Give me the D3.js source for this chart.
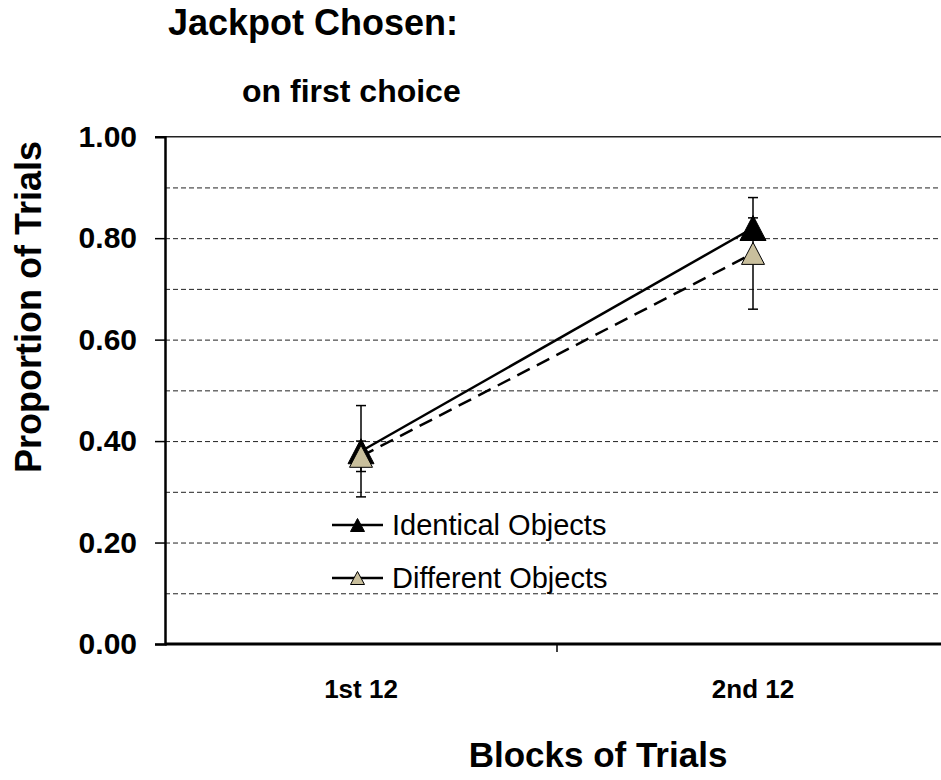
<!DOCTYPE html>
<html><head><meta charset="utf-8">
<script src="https://cdn.jsdelivr.net/npm/d3@7"></script>
<style>body{margin:0;background:#fff}svg{display:block}text{font-family:"Liberation Sans",Arial,sans-serif}</style>
</head><body><svg id="c" width="941" height="780"></svg>
<script>
const categories = ["1st 12", "2nd 12"];
const identical = [0.38, 0.82];
const identicalErr = [0.09, 0.02];
const different = [0.37, 0.77];
const differentErr = [0.03, 0.11];
const yTicks = [0, 0.2, 0.4, 0.6, 0.8, 1.0];
const gridValues = [0.1, 0.2, 0.3, 0.4, 0.5, 0.6, 0.7, 0.8, 0.9];
const seriesNames = ["Identical Objects", "Different Objects"];

const svg = d3.select("#c");
const L = 165, R = 949, T = 136.7, B = 644;
const x = d3.scaleBand().domain(categories).range([L, R]);
const y = d3.scaleLinear().domain([0, 1]).range([B, T]);
const cx = c => x(c) + x.bandwidth() / 2;
const beige = "#c9bf9c";

// gridlines
svg.append("g").attr("transform", `translate(${L},0)`)
  .call(d3.axisLeft(y).tickValues(gridValues).tickSize(-(R - L)).tickFormat(""))
  .call(g => g.select(".domain").remove())
  .call(g => g.selectAll("line").attr("stroke", "#222").attr("stroke-width", 1).attr("stroke-dasharray", "5,3"));
svg.append("line").attr("x1", L).attr("x2", R).attr("y1", y(1)).attr("y2", y(1))
  .attr("stroke", "#222").attr("stroke-width", 1.5);

// y axis
svg.append("g").attr("transform", `translate(${L},0)`)
  .call(d3.axisLeft(y).tickValues(yTicks).tickSize(10).tickPadding(18).tickFormat(d3.format(".2f")))
  .call(g => g.select(".domain").attr("stroke", "#000").attr("stroke-width", 2.5))
  .call(g => g.selectAll("line").attr("stroke", "#000").attr("stroke-width", 1.5))
  .call(g => g.selectAll("text").attr("font-size", 30).attr("font-weight", "bold").attr("fill", "#000")
    .attr("font-family", '"Liberation Sans",Arial,sans-serif'));

// x axis
svg.append("line").attr("x1", L).attr("x2", R).attr("y1", B).attr("y2", B).attr("stroke", "#000").attr("stroke-width", 3);
svg.append("g").selectAll("line").data(categories.slice(1)).join("line")
  .attr("x1", d => x(d)).attr("x2", d => x(d)).attr("y1", B).attr("y2", B + 8)
  .attr("stroke", "#000").attr("stroke-width", 1.5);
svg.append("g").selectAll("text").data(categories).join("text")
  .attr("x", d => cx(d)).attr("y", 698).attr("text-anchor", "middle")
  .attr("font-size", 26).attr("font-weight", "bold").text(d => d);

// titles
svg.append("text").attr("x", 168).attr("y", 35).attr("font-size", 36).attr("font-weight", "bold").text("Jackpot Chosen:");
svg.append("text").attr("x", 242).attr("y", 102).attr("font-size", 32).attr("font-weight", "bold").text("on first choice");
svg.append("text").attr("x", 598).attr("y", 767).attr("text-anchor", "middle").attr("font-size", 35).attr("font-weight", "bold").text("Blocks of Trials");
svg.append("text").attr("transform", `translate(41,307) rotate(-90)`).attr("text-anchor", "middle")
  .attr("font-size", 36).attr("font-weight", "bold").text("Proportion of Trials");

// error bars
function errBars(vals, errs) {
  const g = svg.append("g").attr("stroke", "#000").attr("stroke-width", 1.5);
  categories.forEach((c, i) => {
    const X = cx(c), hi = y(vals[i] + errs[i]), lo = y(vals[i] - errs[i]);
    g.append("line").attr("x1", X).attr("x2", X).attr("y1", hi).attr("y2", lo);
    g.append("line").attr("x1", X - 5).attr("x2", X + 5).attr("y1", hi).attr("y2", hi);
    g.append("line").attr("x1", X - 5).attr("x2", X + 5).attr("y1", lo).attr("y2", lo);
  });
}
errBars(different, differentErr);
errBars(identical, identicalErr);

// lines
const line = d3.line().x((d, i) => cx(categories[i])).y(d => y(d));
svg.append("path").datum(identical).attr("d", line).attr("fill", "none").attr("stroke", "#000").attr("stroke-width", 2.5);
svg.append("path").datum(different).attr("d", line).attr("fill", "none").attr("stroke", "#000").attr("stroke-width", 2.5).attr("stroke-dasharray", "14,8");

// markers
const tri = (w, h) => `M0,${-h / 2}L${w / 2},${h / 2}L${-w / 2},${h / 2}Z`;
svg.append("g").selectAll("path").data(identical).join("path")
  .attr("transform", (d, i) => `translate(${cx(categories[i])},${y(d)})`)
  .attr("d", tri(26, 25)).attr("fill", "#000").attr("stroke", "#000").attr("stroke-width", 1);
svg.append("g").selectAll("path").data(different).join("path")
  .attr("transform", (d, i) => `translate(${cx(categories[i])},${y(d)})`)
  .attr("d", tri(23, 22)).attr("fill", beige).attr("stroke", "#000").attr("stroke-width", 1);

// legend
const leg = svg.append("g");
seriesNames.forEach((n, i) => {
  const yy = 525 + i * 53;
  leg.append("line").attr("x1", 332).attr("x2", 383).attr("y1", yy).attr("y2", yy).attr("stroke", "#000").attr("stroke-width", 2.5);
  leg.append("path").attr("transform", `translate(357.5,${yy})`).attr("d", tri(14, 13))
    .attr("fill", i === 0 ? "#000" : beige).attr("stroke", "#000").attr("stroke-width", 1);
  leg.append("text").attr("x", 392).attr("y", yy + 10).attr("font-size", 29).text(n);
});
</script></body></html>
